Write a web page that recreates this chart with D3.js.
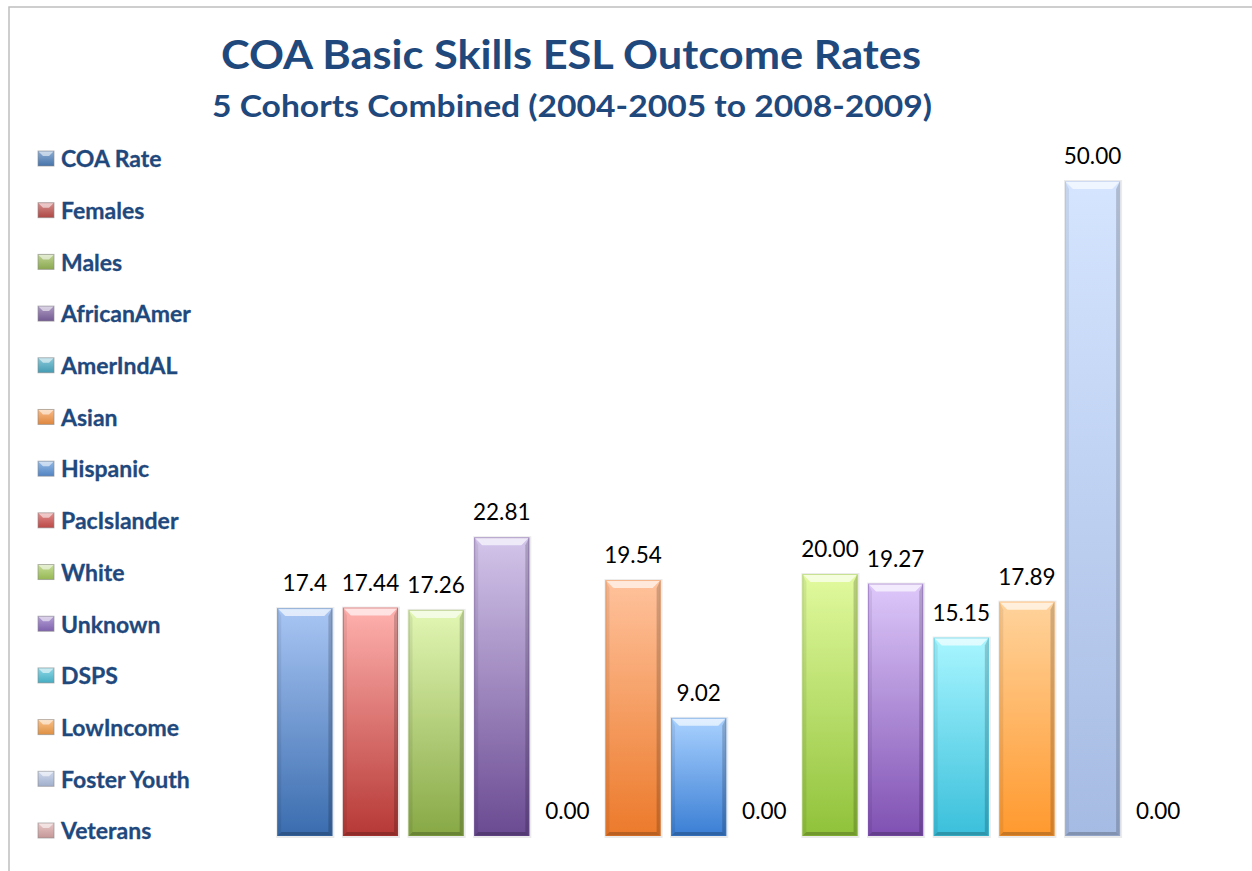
<!DOCTYPE html>
<html>
<head>
<meta charset="utf-8">
<script src="https://cdn.jsdelivr.net/npm/d3@7/dist/d3.min.js"></script>
<style>
  body { margin: 0; background: #fff; }
  svg { display: block; }
</style>
</head>
<body>
<div id="chart"></div>
<script>
// Chart data
const categories = ["COA Rate", "Females", "Males", "AfricanAmer", "AmerIndAL", "Asian", "Hispanic",
  "PacIslander", "White", "Unknown", "DSPS", "LowIncome", "Foster Youth", "Veterans"];
const rates = [17.4, 17.44, 17.26, 22.81, 0, 19.54, 9.02, 0, 20.00, 19.27, 15.15, 17.89, 50.00, 0];
const rateLabels = ["17.4", "17.44", "17.26", "22.81", "0.00", "19.54", "9.02", "0.00",
  "20.00", "19.27", "15.15", "17.89", "50.00", "0.00"];

// Colours: light top / dark bottom of each bar gradient, plus legend swatch colour
const barTop = ["#a9c6f4", "#ffb1ae", "#e2f7b4", "#d3c5ea", "#a6e0ee", "#ffc29c", "#a9d1ff",
  "#f3a9a7", "#e1fa9e", "#ddc8fa", "#a8f6ff", "#ffd39c", "#d5e5ff", "#f0c4c4"];
const barBottom = ["#3a6cae", "#b63835", "#87a845", "#6a4a92", "#3a9ab6", "#ec7a2b", "#3a7ed4",
  "#c04444", "#90c23a", "#7f50b2", "#3abfdb", "#ff992e", "#a6bbe3", "#d49a9a"];
const swatch = ["#4f81bd", "#c0504d", "#9bbb59", "#8064a2", "#4bacc6", "#f79646", "#5b93d8",
  "#d0504e", "#a7cc5e", "#8c6cc0", "#4ec0d8", "#f7a04a", "#b3c3e3", "#dba8a8"];

const W = 1252, H = 871;
const titleColor = "#1f497d";

const svg = d3.select("#chart")
  .append("svg")
  .attr("width", W)
  .attr("height", H);

const defs = svg.append("defs");

// Outer frame (only top and left visible)
svg.append("path")
  .attr("d", `M9,${H} V7 H${W}`)
  .attr("fill", "none")
  .attr("stroke", "#bfbfbf")
  .attr("stroke-width", 1.5);

// Titles
svg.append("text")
  .attr("x", 571).attr("y", 69)
  .attr("text-anchor", "middle")
  .attr("font-family", "Lato, 'Open Sans', sans-serif")
  .attr("font-weight", "bold")
  .attr("font-size", 40)
  .attr("fill", titleColor)
  .attr("textLength", 700)
  .attr("lengthAdjust", "spacingAndGlyphs")
  .text("COA Basic Skills ESL Outcome Rates");

svg.append("text")
  .attr("x", 572).attr("y", 117)
  .attr("text-anchor", "middle")
  .attr("font-family", "Lato, 'Open Sans', sans-serif")
  .attr("font-weight", "bold")
  .attr("font-size", 30)
  .attr("fill", titleColor)
  .attr("textLength", 720)
  .attr("lengthAdjust", "spacingAndGlyphs")
  .text("5 Cohorts Combined (2004-2005 to 2008-2009)");

// Scales
const x = d3.scaleBand()
  .domain(categories)
  .range([272, 1191])
  .paddingInner(0.16)
  .paddingOuter(0.08);

const y = d3.scaleLinear()
  .domain([0, 50])
  .range([836, 181]);

const legendY = d3.scalePoint()
  .domain(categories)
  .range([159, 831]);

// Gradients for bars and legend swatches
categories.forEach((c, i) => {
  const g = defs.append("linearGradient")
    .attr("id", "grad" + i)
    .attr("x1", 0).attr("y1", 0).attr("x2", 0).attr("y2", 1);
  g.append("stop").attr("offset", "0%").attr("stop-color", barTop[i]);
  g.append("stop").attr("offset", "100%").attr("stop-color", barBottom[i]);

  const s = defs.append("linearGradient")
    .attr("id", "sw" + i)
    .attr("x1", 0).attr("y1", 0).attr("x2", 0).attr("y2", 1);
  s.append("stop").attr("offset", "0%").attr("stop-color", d3.interpolateRgb(swatch[i], "#fff")(0.35));
  s.append("stop").attr("offset", "100%").attr("stop-color", d3.color(swatch[i]).darker(0.3));
});

// Bars with a bevel look
const data = categories.map((c, i) => ({ cat: c, value: rates[i], label: rateLabels[i], i: i }));

const bars = svg.append("g")
  .selectAll("g")
  .data(data.filter(d => d.value > 0))
  .enter().append("g");

const bw = x.bandwidth();
const bev = 8, side = 4;

// soft shadow
bars.append("rect")
  .attr("x", d => x(d.cat) - 1)
  .attr("y", d => y(d.value) - 1)
  .attr("width", bw + 3)
  .attr("height", d => y(0) - y(d.value) + 3)
  .attr("fill", "#000")
  .attr("opacity", 0.08);

bars.append("rect")
  .attr("x", d => x(d.cat))
  .attr("y", d => y(d.value))
  .attr("width", bw)
  .attr("height", d => y(0) - y(d.value))
  .attr("fill", d => `url(#grad${d.i})`);

// top bevel highlight
bars.append("path")
  .attr("d", d => {
    const x0 = x(d.cat), x1 = x0 + bw, y0 = y(d.value);
    return `M${x0},${y0} H${x1} L${x1 - bev},${y0 + bev} H${x0 + bev} Z`;
  })
  .attr("fill", "#fff")
  .attr("opacity", 0.65);

// left edge
bars.append("path")
  .attr("d", d => {
    const x0 = x(d.cat), y0 = y(d.value), y1 = y(0);
    return `M${x0},${y0} L${x0 + side},${y0 + bev} V${y1 - side} L${x0},${y1} Z`;
  })
  .attr("fill", "#000")
  .attr("opacity", 0.07);

// right edge
bars.append("path")
  .attr("d", d => {
    const x1 = x(d.cat) + bw, y0 = y(d.value), y1 = y(0);
    return `M${x1},${y0} L${x1 - side},${y0 + bev} V${y1 - side} L${x1},${y1} Z`;
  })
  .attr("fill", "#000")
  .attr("opacity", 0.18);

// bottom edge
bars.append("path")
  .attr("d", d => {
    const x0 = x(d.cat), x1 = x0 + bw, y1 = y(0);
    return `M${x0},${y1} L${x0 + side},${y1 - side} H${x1 - side} L${x1},${y1} Z`;
  })
  .attr("fill", "#000")
  .attr("opacity", 0.22);

bars.append("rect")
  .attr("x", d => x(d.cat) + 0.5)
  .attr("y", d => y(d.value) + 0.5)
  .attr("width", bw - 1)
  .attr("height", d => y(0) - y(d.value) - 1)
  .attr("fill", "none")
  .attr("stroke", d => barBottom[d.i])
  .attr("stroke-opacity", 0.45);

// Value labels
svg.append("g")
  .selectAll("text")
  .data(data)
  .enter().append("text")
  .attr("x", d => x(d.cat) + bw / 2)
  .attr("y", d => y(d.value) - 17)
  .attr("text-anchor", "middle")
  .attr("font-family", "Lato, 'Open Sans', sans-serif")
  .attr("font-size", 22.5)
  .attr("fill", "#000")
  .text(d => d.label);

// Legend
const legend = svg.append("g")
  .selectAll("g")
  .data(data)
  .enter().append("g")
  .attr("transform", d => `translate(38,${legendY(d.cat)})`);

legend.append("rect")
  .attr("x", 0).attr("y", -8)
  .attr("width", 16).attr("height", 15)
  .attr("fill", d => `url(#sw${d.i})`)
  .attr("stroke", "#8a8a8a")
  .attr("stroke-opacity", 0.6);

legend.append("path")
  .attr("d", "M0.5,-7.5 H15.5 L11,-3 H5 Z")
  .attr("fill", "#fff")
  .attr("opacity", 0.55);

legend.append("text")
  .attr("x", 23)
  .attr("y", 0)
  .attr("dy", "0.36em")
  .attr("font-family", "Lato, 'Open Sans', sans-serif")
  .attr("font-weight", "bold")
  .attr("font-size", 23)
  .attr("fill", titleColor)
  .attr("stroke", titleColor)
  .attr("stroke-width", 0.3)
  .text(d => d.cat);
</script>
</body>
</html>
